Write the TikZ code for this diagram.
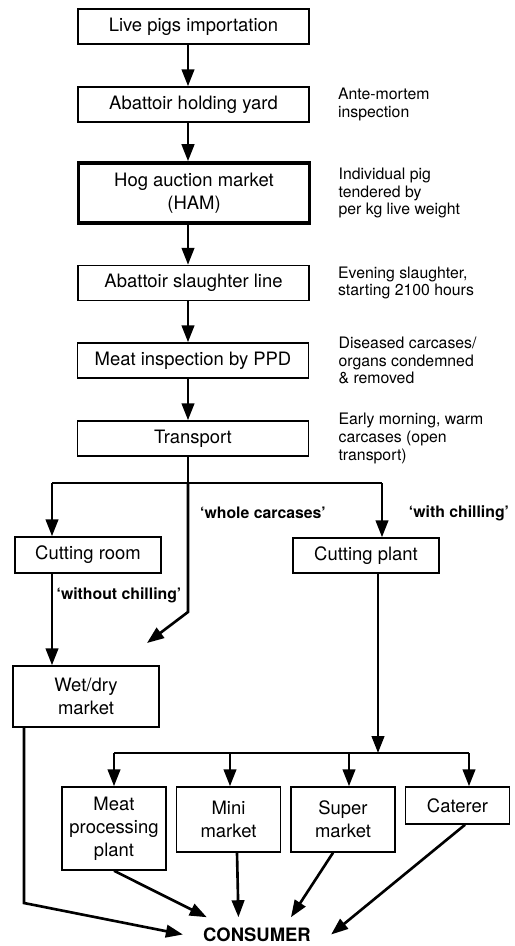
\documentclass[tikz,border=0pt]{standalone}
\usepackage{fontspec}
\setmainfont{TeX Gyre Heros}
\usetikzlibrary{arrows.meta, positioning}
\tikzset{
  box/.style={rectangle, draw=black, fill=white, align=center,
    line width=0.85pt, inner sep=2pt, font=\fontsize{10.5}{13}\selectfont},
  mainbox/.style={box, minimum width=46.2mm, minimum height=7mm},
  hambox/.style={mainbox, line width=2pt, minimum height=12mm},
  sidebox/.style={box, minimum width=29.2mm},
  shopbox/.style={box, minimum width=20.8mm},
  note/.style={align=left, inner sep=0pt, font=\fontsize{9}{10}\selectfont},
  flowtag/.style={inner sep=0pt, font=\fontsize{9}{10}\selectfont\bfseries},
  endnode/.style={inner xsep=4mm, inner ysep=2mm, font=\fontsize{10.5}{12}\selectfont\bfseries},
  arrow/.style={-{Triangle[length=3.4mm,width=2.5mm]}, line width=1.5pt},
  line/.style={line width=1.5pt}
}
\begin{document}
\begin{tikzpicture}[x=0.2mm, y=-0.2mm]
  \useasboundingbox (0,0) rectangle (515,946);

  % main chain
  \node[mainbox] (live) at (193.5,26.5) {Live pigs importation};
  \node[mainbox] (yard) at (193.5,104.5) {Abattoir holding yard};
  \node[hambox] (ham) at (194,193) {Hog auction market\\(HAM)};
  \node[mainbox] (slaughter) at (193.5,283) {Abattoir slaughter line};
  \node[mainbox] (inspect) at (193,360.5) {Meat inspection by PPD};
  \node[mainbox] (transport) at (193,438.5) {Transport};

  % notes on the right
  \node[note, right=0.56cm of yard] (antenote) {Ante-mortem\\inspection};
  \node[note, right=0.54cm of ham] (hamnote) {Individual pig\\tendered by\\per kg live weight};
  \node[note, right=0.56cm of slaughter] (slnote) {Evening slaughter,\\starting 2100 hours};
  \node[note, right=0.58cm of inspect] (ppdnote) {Diseased carcases/\\organs condemned\\\& removed};
  \node[note, right=0.58cm of transport] (trnote) {Early morning, warm\\carcases (open\\transport)};

  % cutting and markets
  \node[sidebox, minimum height=7.2mm] (croom) at (88,555) {Cutting room};
  \node[sidebox, minimum height=7mm] (cplant) at (366,555.5) {Cutting plant};
  \node[sidebox, minimum height=12.2mm] (wetdry) at (86,696.5) {Wet/dry\\market};

  \node[shopbox, minimum height=16.6mm] (meatproc) at (114,828.5) {Meat\\processing\\plant};
  \node[shopbox, minimum height=13mm] (mini) at (228.5,819.5) {Mini\\market};
  \node[shopbox, minimum height=13mm] (super) at (343,819.5) {Super\\market};
  \node[shopbox, minimum height=7.4mm] (caterer) at (457.5,805.5) {Caterer};

  \node[endnode] (consumer) at (257,934.5) {CONSUMER};

  % tags
  \node[flowtag] (wholetag) at (263,513) {`whole carcases'};
  \node[flowtag] (chilltag) at (459,513) {`with chilling'};
  \node[flowtag] (nochilltag) at (119,595) {`without chilling'};

  % helper points
  \coordinate (spine) at (188,0);
  \coordinate (split) at (188,483);
  \coordinate (leftdrop) at (52,483);
  \coordinate (rightdrop) at (382,483);
  \coordinate (bend) at (188,612);
  \coordinate (wholeend) at (147,643);
  \coordinate (plantdrop) at (378,753);
  \coordinate (fanL) at (114,753);
  \coordinate (fanR) at (469,753);
  \coordinate (wetcorner) at (24,903);

  % arrows down the chain
  \draw[arrow] (live.south -| spine) -- (yard.north -| spine);
  \draw[arrow] (yard.south -| spine) -- (ham.north -| spine);
  \draw[arrow] (ham.south -| spine) -- (slaughter.north -| spine);
  \draw[arrow] (slaughter.south -| spine) -- (inspect.north -| spine);
  \draw[arrow] (inspect.south -| spine) -- (transport.north -| spine);

  % branching after transport
  \draw[line] (transport.south -| spine) -- (split);
  \draw[line] (leftdrop) -- (rightdrop);
  \draw[arrow] (leftdrop) -- (croom.north -| leftdrop);
  \draw[arrow] (rightdrop) -- (cplant.north -| rightdrop);
  \draw[arrow] (split) -- (bend) -- (wholeend);
  \draw[arrow] (croom.south -| leftdrop) -- (wetdry.north -| leftdrop);

  % cutting plant to outlets
  \draw[arrow] (cplant.south -| plantdrop) -- (plantdrop);
  \draw[line] (fanL) -- (fanR);
  \foreach \x/\n in {114/meatproc, 230/mini, 349/super, 469/caterer}
    \draw[arrow] (\x,753) -- (\n.north -| \x,753);

  % to consumer
  \draw[arrow] (wetdry.south -| wetcorner) -- (wetcorner) -- (consumer.west);
  \draw[arrow] (meatproc.south) -- (consumer.161);
  \draw[arrow] ([xshift=1.7mm]mini.south) -- (consumer.137);
  \draw[arrow] ([xshift=-2mm]super.south) -- (consumer.27);
  \draw[arrow] ([xshift=1.5mm]caterer.south) -- (consumer.east);
\end{tikzpicture}
\end{document}
